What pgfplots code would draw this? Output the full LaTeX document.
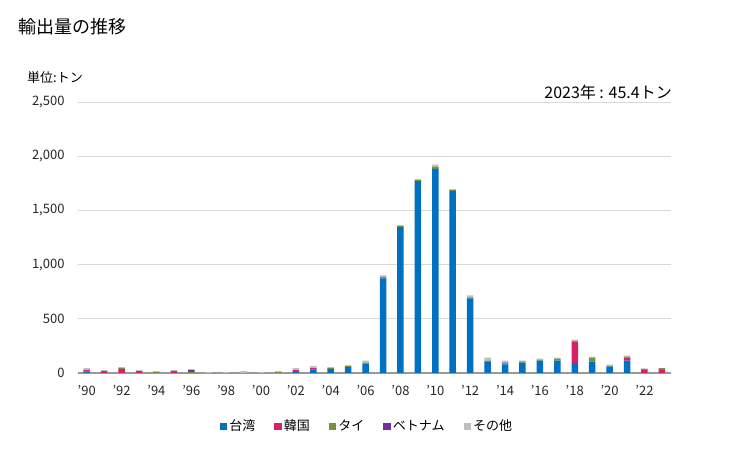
\documentclass[border=0pt]{standalone}
\usepackage{fontspec}
\setmainfont{Noto Sans CJK JP}
\usepackage{pgfplots}
\pgfplotsset{compat=1.18}
\usepackage{pgfplotstable}
\definecolor{cTW}{RGB}{0,112,192}
\definecolor{cKR}{RGB}{214,32,106}
\definecolor{cTH}{RGB}{118,146,60}
\definecolor{cVN}{RGB}{112,48,160}
\definecolor{cOT}{RGB}{191,191,191}
\newcommand\q{\char"27\relax}
\pgfplotstableread{
year tw kr th vn ot
1990 12 15 0 0 18
1991 0 18 0 0 9
1992 0 37 9 0 9
1993 0 18 0 0 9
1994 0 0 9 0 9
1995 0 18 0 0 9
1996 0 0 9 18 9
1997 0 0 0 0 9
1998 0 0 0 0 9
1999 0 0 0 0 18
2000 0 0 0 0 9
2001 0 0 9 0 9
2002 9 18 0 0 18
2003 31 15 0 0 18
2004 37 0 9 0 9
2005 55 0 9 0 9
2006 86 0 9 0 18
2007 873 0 13 0 15
2008 1346 0 9 0 9
2009 1771 0 9 0 9
2010 1883 0 21 0 19
2011 1679 0 9 0 9
2012 689 0 9 0 18
2013 108 0 6 0 28
2014 80 0 6 9 18
2015 96 0 12 0 6
2016 114 0 9 0 9
2017 114 0 18 0 9
2018 90 200 9 0 9
2019 105 0 37 0 9
2020 59 0 9 0 9
2021 114 28 9 0 9
2022 0 28 9 0 3
2023 0 28 17.4 0 0
}\datatable
\begin{document}
\begin{tikzpicture}[x=1bp,y=1bp]
\path[use as bounding box] (0,0) rectangle (729,450);
\node[anchor=west, inner sep=0, font=\fontsize{18bp}{20bp}\selectfont] at (18,423) {輸出量の推移};
\node[anchor=west, inner sep=0, font=\fontsize{13bp}{15bp}\selectfont] at (27,372) {単位:トン};
\node[anchor=east, inner sep=0, font=\fontsize{16bp}{18bp}\selectfont] at (672,358) {2023年 : 45.4トン};
\begin{axis}[
  at={(78bp,77bp)}, anchor=south west,
  scale only axis, width=592.6bp, height=271bp,
  ybar stacked, bar width=6.5bp,
  xmin=1989.5, xmax=2023.5, ymin=0, ymax=2500,
  ytick={0,500,...,2500},
  xtick={1990,1992,...,2022},
  xticklabels={\q90,\q92,\q94,\q96,\q98,\q00,\q02,\q04,\q06,\q08,\q10,\q12,\q14,\q16,\q18,\q20,\q22},
  /pgf/number format/assume math mode=true,
  axis x line=bottom, axis y line=left,
  x axis line style={-, draw=gray!80, line width=1.6bp},
  y axis line style={-, draw=none},
  major tick length=0,
  ymajorgrids, grid style={draw=gray!30, line width=0.8bp},
  tick label style={font=\fontsize{13bp}{15bp}\selectfont, text=black!85},
  yticklabel style={xshift=-10bp},
  xticklabel style={yshift=-9bp},
  legend style={at={(0.4877,-0.1956)}, anchor=center, draw=none, fill=none,
    font=\fontsize{13bp}{15bp}\selectfont, legend columns=5,
    /tikz/every even column/.append style={column sep=17bp}},
  legend image code/.code={\fill[#1] (0bp,-4bp) rectangle (7.5bp,3.5bp);},
  legend cell align=left,
]
\addplot[fill=cTW, draw=none] table[x=year,y=tw] {\datatable};
\addplot[fill=cKR, draw=none] table[x=year,y=kr] {\datatable};
\addplot[fill=cTH, draw=none] table[x=year,y=th] {\datatable};
\addplot[fill=cVN, draw=none] table[x=year,y=vn] {\datatable};
\addplot[fill=cOT, draw=none] table[x=year,y=ot] {\datatable};
\legend{台湾,韓国,タイ,ベトナム,その他}
\end{axis}
\end{tikzpicture}
\end{document}
